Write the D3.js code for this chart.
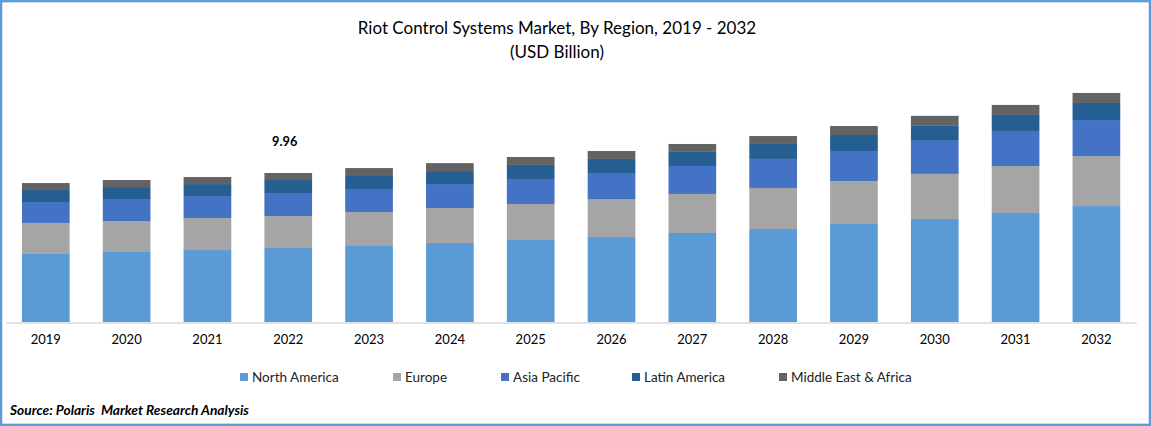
<!DOCTYPE html>
<html lang="en">

	<head>
		<meta charset="utf-8">
		<title>Riot Control Systems Market</title>
		<script src="https://cdn.jsdelivr.net/npm/d3@7/dist/d3.min.js" charset="utf-8"></script>
		<style>
		html, body {
			margin: 0;
			padding: 0;
			background: #fff;
		}
		svg {
			display: block;
		}
		text {
			font-family: Lato, "Open Sans", sans-serif;
			fill: #000;
		}
		.axis path {
			stroke: #d9d9d9;
			stroke-width: 1.5;
		}
		.axis text {
			font-size: 13px;
		}
		.legend text {
			font-size: 13.5px;
			fill: #222;
		}
		</style>
	</head>

	<body>
	<svg id="chart" width="1151" height="426"></svg>

	<script>
	var years=["2019","2020","2021","2022","2023","2024","2025","2026","2027","2028","2029","2030","2031","2032"];
	var regions=["North America","Europe","Asia Pacific","Latin America","Middle East & Africa"];
	var colors=["#5b9bd5","#a5a5a5","#4472c4","#255e91","#636363"];

	var northAmerica=[4.55,4.68,4.81,4.95,5.08,5.28,5.48,5.68,5.95,6.22,6.55,6.89,7.29,7.75];
	var europe=[2.07,2.07,2.14,2.13,2.27,2.34,2.41,2.54,2.61,2.74,2.87,3.01,3.14,3.34];
	var asiaPacific=[1.40,1.47,1.47,1.54,1.54,1.60,1.67,1.74,1.87,1.94,2.01,2.21,2.34,2.41];
	var latinAmerica=[0.80,0.80,0.80,0.87,0.87,0.87,0.94,0.94,0.94,1.00,1.07,1.00,1.07,1.14];
	var middleEast=[0.47,0.47,0.47,0.47,0.53,0.53,0.53,0.53,0.53,0.53,0.60,0.67,0.67,0.67];

	var seriesValues=[northAmerica,europe,asiaPacific,latinAmerica,middleEast];
	var labelYear="2022";
	var labelText="9.96";

	var svg=d3.select("#chart");

	//blue frame around the picture
	svg.append("rect")
		.attr("x",1.1).attr("y",1.2)
		.attr("width",1148.8).attr("height",423.6)
		.attr("fill","#fff")
		.attr("stroke","#5b9bd5")
		.attr("stroke-width",2.3);

	//title
	svg.append("text").attr("x",557).attr("y",34)
		.attr("text-anchor","middle").style("font-size","17px")
		.text("Riot Control Systems Market, By Region, 2019 - 2032");
	svg.append("text").attr("x",557).attr("y",58)
		.attr("text-anchor","middle").style("font-size","17px")
		.text("(USD Billion)");

	//scales
	var x=d3.scaleBand().domain(years).range([5.8,1136.4]).paddingInner(0.41).paddingOuter(0.2);
	var y=d3.scaleLinear().domain([0,16]).range([322,82.64]);

	//stack layout built from the small arrays
	var rows=years.map(function(yr,i){
		var row={year:yr};
		regions.forEach(function(r,j){ row[r]=seriesValues[j][i]; });
		return row;
	});
	var stacked=d3.stack().keys(regions)(rows);

	svg.append("g").selectAll("g")
		.data(stacked)
		.enter().append("g")
		.attr("fill",function(d,i){ return colors[i]; })
		.selectAll("rect")
		.data(function(d){ return d; })
		.enter().append("rect")
		.attr("x",function(d){ return x(d.data.year); })
		.attr("y",function(d){ return y(d[1]); })
		.attr("width",x.bandwidth())
		.attr("height",function(d){ return y(d[0])-y(d[1]); });

	//x axis
	var axis=svg.append("g")
		.attr("class","axis")
		.attr("transform","translate(0,322.5)")
		.call(d3.axisBottom(x).tickSize(0).tickPadding(12));

	//the only data label in the chart
	svg.append("text")
		.attr("x",x(labelYear)+x.bandwidth()/2-3.5)
		.attr("y",146)
		.attr("text-anchor","middle")
		.style("font-size","12.8px")
		.style("font-weight","bold")
		.text(labelText);

	//legend
	var legendX=[240,393,501,632,779];
	var legend=svg.append("g").attr("class","legend")
		.selectAll("g")
		.data(regions)
		.enter().append("g")
		.attr("transform",function(d,i){ return "translate("+legendX[i]+",373)"; });
	legend.append("rect")
		.attr("width",8).attr("height",8)
		.attr("fill",function(d,i){ return colors[i]; });
	legend.append("text")
		.attr("x",12).attr("y",8.5)
		.text(function(d){ return d; });

	//source line
	svg.append("text")
		.attr("x",10).attr("y",415)
		.style("font-size","13.75px")
		.style("font-weight","bold")
		.style("font-style","italic")
		.style("white-space","pre")
		.text("Source: Polaris  Market Research Analysis");
	</script>
	</body>

</html>
